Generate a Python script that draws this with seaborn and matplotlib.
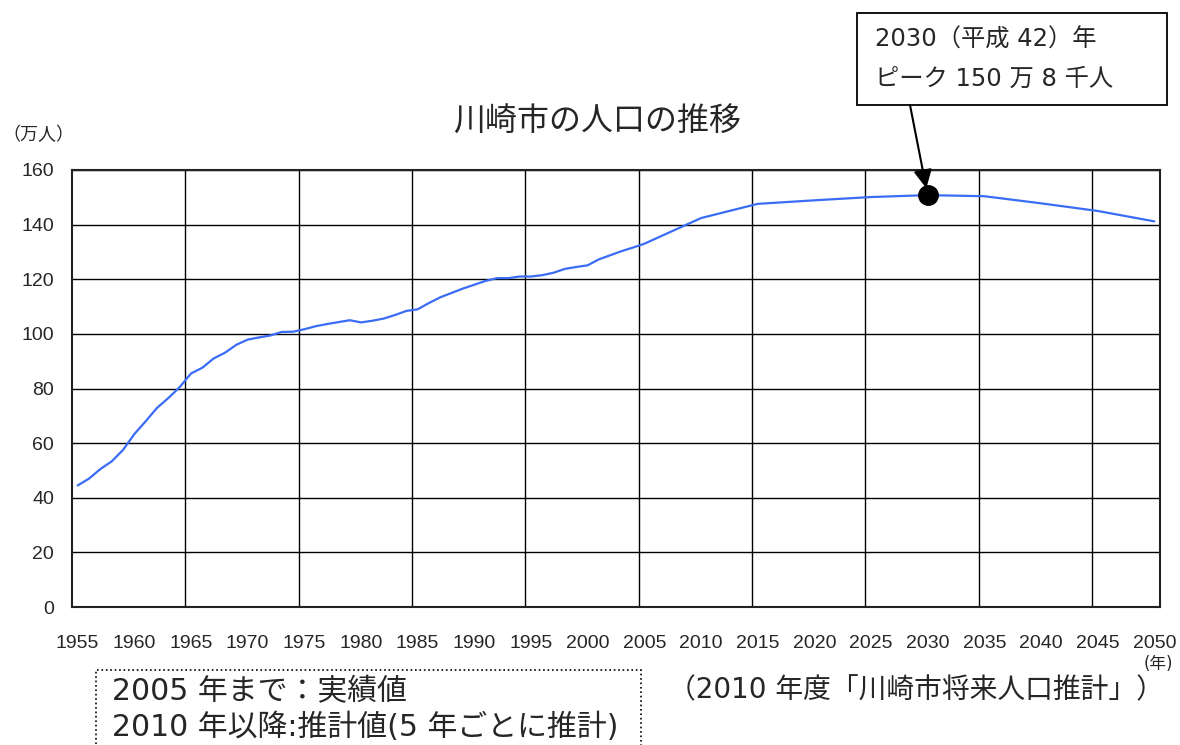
import numpy as np
import pandas as pd
import seaborn as sns
import matplotlib.pyplot as plt
from matplotlib.patches import Rectangle

# 川崎市の人口 (万人): 1955-2005 actual (annual), 2010-2050 projection (5-year)
years_actual = list(range(1955, 2006))
pop_actual = [44.5, 47.0, 50.5, 53.3, 57.5, 63.3, 68.0, 72.9, 76.5, 80.5,
              85.5, 87.6, 91.0, 93.1, 96.0, 97.9, 98.7, 99.4, 100.7, 100.8,
              101.7, 102.8, 103.6, 104.3, 105.0, 104.2, 104.8, 105.6, 106.9, 108.4,
              109.0, 111.3, 113.4, 115.0, 116.6, 118.0, 119.4, 120.4, 120.4, 121.0,
              121.0, 121.5, 122.4, 123.8, 124.5, 125.1, 127.3, 128.8, 130.3, 131.6,
              133.0]
years_proj = [2010, 2015, 2020, 2025, 2030, 2035, 2040, 2045, 2050]
pop_proj = [142.4, 147.6, 148.9, 150.1, 150.8, 150.4, 147.8, 145.0, 141.2]

peak_year = 2030
peak_pop = 150.8

xtick_years = list(range(1955, 2051, 5))
yticks = [0, 20, 40, 60, 80, 100, 120, 140, 160]

df = pd.DataFrame({"year": years_actual + years_proj,
                   "pop": pop_actual + pop_proj})

sns.set_style("white")
plt.rcParams['font.family'] = ['Noto Sans CJK JP', 'DejaVu Sans']
wide = ['DejaVu Sans', 'Noto Sans CJK JP']  # wider digits, CJK fallback

fig = plt.figure(figsize=(11.8, 7.45), dpi=100)
ax = fig.add_axes([72/1180, 1-607/745, (1160-72)/1180, (607-170)/745])

sns.lineplot(data=df, x="year", y="pop", color="#3a6cf6", linewidth=1.6, ax=ax)
ax.plot([peak_year], [peak_pop], "o", color="black", markersize=14, zorder=5)

ax.set_xlim(1954.5, 2050.5)
ax.set_ylim(0, 160)
ax.set_xticks(xtick_years)
ax.set_xticks(np.arange(1964.5, 2050, 10), minor=True)
ax.set_yticks(yticks)
ax.grid(which="minor", axis="x", color="black", linewidth=1.0)
ax.grid(which="major", axis="y", color="black", linewidth=1.0)
ax.grid(which="major", axis="x", visible=False)
ax.tick_params(axis="x", which="both", length=0, pad=20, labelsize=14)
ax.tick_params(axis="y", length=0, pad=13, labelsize=14)
for lab in ax.get_xticklabels() + ax.get_yticklabels():
    lab.set_fontfamily("Liberation Sans")
ax.set_xlabel("")
ax.set_ylabel("")
for s in ax.spines.values():
    s.set_color("#222222")
    s.set_linewidth(1.5)

fig.text(597/1180, 1-122/745, "川崎市の人口の推移", ha="center", va="center", fontsize=23)
fig.text(2/1180, 1-135/745, "（万人）", ha="left", va="center", fontsize=13)
fig.text(1158/1180, 1-664/745, "(年)", ha="center", va="center", fontsize=12, family=wide)
fig.text(668/1180, 1-690/745, "（2010 年度「川崎市将来人口推計」）",
         ha="left", va="center", fontsize=20, family=wide)

# annotation box
fig.patches.append(Rectangle((857/1180, 1-105/745), 310/1180, 92/745,
                             transform=fig.transFigure, fill=False,
                             edgecolor="black", linewidth=1.3))
fig.text(875/1180, 1-40/745, "2030（平成 42）年", ha="left", va="center",
         fontsize=17.5, family=wide)
fig.text(875/1180, 1-79/745, "ピーク 150 万 8 千人", ha="left", va="center",
         fontsize=17.5, family=wide)
ax.annotate("", xy=(peak_year, peak_pop), xytext=(910/1180, 1-105/745),
            textcoords="figure fraction",
            arrowprops=dict(arrowstyle="-|>", color="black", lw=1.5,
                            mutation_scale=28, shrinkA=0, shrinkB=5))

# notes box (dotted)
fig.patches.append(Rectangle((96/1180, -0.05), (641-96)/1180, 0.05+1-670/745,
                             transform=fig.transFigure, fill=False,
                             edgecolor="black", linewidth=1.2, linestyle=":"))
fig.text(112/1180, 1-692/745, "2005 年まで：実績値", ha="left", va="center",
         fontsize=21.5, family=wide)
fig.text(112/1180, 1-727/745, "2010 年以降:推計値(5 年ごとに推計)", ha="left", va="center",
         fontsize=21.5, family=wide)

fig.savefig("out.png", dpi=100)
